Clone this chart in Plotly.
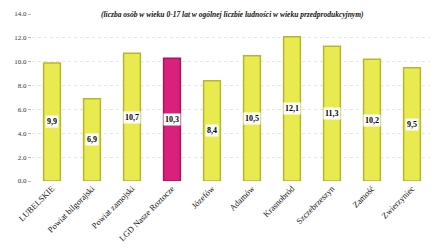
import plotly.graph_objects as go

categories = ["LUBELSKIE", "Powiat bilgorajski", "Powiat zamojski", "LGD Nasze Roztocze",
              "Józefów", "Adamów", "Krasnobród", "Szczebrzeszyn", "Zamość", "Zwierzyniec"]
values = [9.9, 6.9, 10.7, 10.3, 8.4, 10.5, 12.1, 11.3, 10.2, 9.5]
value_labels = ["9,9", "6,9", "10,7", "10,3", "8,4", "10,5", "12,1", "11,3", "10,2", "9,5"]
highlight = "LGD Nasze Roztocze"
y_ticks = [0, 2, 4, 6, 8, 10, 12, 14]
y_tick_labels = ["0.0", "2.0", "4.0", "6.0", "8.0", "10.0", "12.0", "14.0"]
title_text = "(liczba osób w wieku 0-17 lat w ogólnej liczbie ludności w wieku przedprodukcyjnym)"

colors = ["#d9207a" if c == highlight else "#e8ea50" for c in categories]
line_colors = ["#a8155a" if c == highlight else "#b5b82c" for c in categories]

fig = go.Figure()
fig.add_trace(go.Bar(
    x=categories, y=values, width=0.42,
    marker=dict(color=colors, line=dict(color=line_colors, width=1.5)),
    hoverinfo="skip",
))

for c, v, lab in zip(categories, values, value_labels):
    fig.add_annotation(x=c, y=v / 2, text="<b>" + lab + "</b>", showarrow=False,
                       bgcolor="white", borderpad=1,
                       font=dict(family="Liberation Serif", size=8, color="#000000"))

fig.add_annotation(xref="paper", yref="paper", x=0.5, y=1.0, yshift=6, yanchor="top",
                   text="<b><i>" + title_text + "</i></b>", showarrow=False,
                   font=dict(family="Liberation Serif", size=7.5, color="#111111"))

fig.update_layout(
    width=430, height=242,
    margin=dict(l=24, r=6, t=6, b=69, autoexpand=False),
    plot_bgcolor="white", paper_bgcolor="white",
    showlegend=False,
    font=dict(family="Liberation Serif", size=7, color="#333333"),
)
fig.update_yaxes(range=[0, 14], tickvals=y_ticks, ticktext=y_tick_labels,
                 showgrid=True, gridcolor="#e6e6e6", griddash="dot", gridwidth=1,
                 zeroline=False, showline=False, ticks="outside", ticklen=3,
                 tickcolor="#bbbbbb", tickfont=dict(size=7, color="#333333"),
                 automargin=False)
fig.update_xaxes(tickangle=-45, showline=False, ticks="", showgrid=False,
                 tickfont=dict(size=8.5, color="#111111"), automargin=False)

fig.write_html("out.html")
